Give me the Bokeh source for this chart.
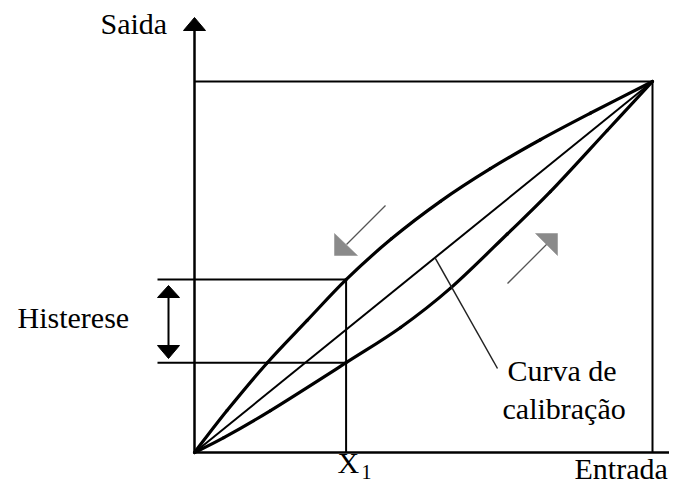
from bokeh.plotting import figure
from bokeh.embed import file_html
from bokeh.resources import INLINE
from bokeh.core.properties import value
from bokeh.models import Range1d

# ---- data (normalised input / output, 0..1) ----
# descending branch (upper curve)
desc_x = [0.0, 0.071, 0.159, 0.246, 0.331, 0.430, 0.537, 0.646, 0.755, 0.865, 1.0]
desc_y = [0.0, 0.113, 0.242, 0.356, 0.466, 0.576, 0.677, 0.765, 0.843, 0.915, 1.0]
# ascending branch (lower curve)
asc_x = [0.0, 0.064, 0.166, 0.331, 0.450, 0.559, 0.683, 0.777, 0.901, 1.0]
asc_y = [0.0, 0.040, 0.113, 0.242, 0.337, 0.443, 0.589, 0.703, 0.868, 1.0]
# calibration curve (straight line)
cal_x = [0.0, 1.0]
cal_y = [0.0, 1.0]
# hysteresis reading point
x1 = asc_x[3]
y_hi = desc_y[4]
y_lo = asc_y[3]

labels = {"y": "Saida", "x": "Entrada", "hyst": "Histerese",
          "cal1": "Curva de", "cal2": "calibração", "x1": "X", "x1sub": "1"}

# ---- layout (pixel mapping of the drawing) ----
OX, OY = 194.0, 452.0     # pixel of origin
SX, SY = 458.0, 371.0     # pixels per unit
W, H = 669, 485


def dx(px):
    return (px - OX) / SX


def dy(py):
    return (OY - py) / SY


def smooth_segments(xs, ys):
    """Catmull-Rom style bezier control points through the given points."""
    n = len(xs)
    P = list(zip(xs, ys))
    out = {k: [] for k in ("x0", "y0", "x1", "y1", "cx0", "cy0", "cx1", "cy1")}
    for i in range(n - 1):
        p0 = P[i - 1] if i > 0 else P[i]
        p1 = P[i]
        p2 = P[i + 1]
        p3 = P[i + 2] if i + 2 < n else P[i + 1]
        out["x0"].append(p1[0]); out["y0"].append(p1[1])
        out["x1"].append(p2[0]); out["y1"].append(p2[1])
        out["cx0"].append(p1[0] + (p2[0] - p0[0]) / 6.0)
        out["cy0"].append(p1[1] + (p2[1] - p0[1]) / 6.0)
        out["cx1"].append(p2[0] - (p3[0] - p1[0]) / 6.0)
        out["cy1"].append(p2[1] - (p3[1] - p1[1]) / 6.0)
    return out


p = figure(width=W, height=H, output_backend="svg", toolbar_location=None,
           x_range=Range1d(-OX / SX, (W - OX) / SX),
           y_range=Range1d((OY - H) / SY, OY / SY),
           x_axis_location=None, y_axis_location=None, min_border=0,
           outline_line_color=None, background_fill_color="white",
           border_fill_color="white")
p.grid.visible = False

K = "black"
# axes
p.line([0, 0], [0, dy(25)], line_color=K, line_width=2.5)
p.patch([-11 / SX, 0, 11 / SX], [dy(30), dy(17), dy(30)], fill_color=K, line_color=K)
p.line([0, dx(690)], [0, 0], line_color=K, line_width=2.5)

# box lines to the full-scale point
p.line([0, 1], [1, 1], line_color=K, line_width=2)
p.line([1, 1], [0, 1], line_color=K, line_width=2)

# curves
p.line(cal_x, cal_y, line_color=K, line_width=2)
p.bezier(**smooth_segments(desc_x, desc_y), line_color=K,
         line_width=3.2, line_cap="round")
p.bezier(**smooth_segments(asc_x, asc_y), line_color=K,
         line_width=3.2, line_cap="round")

# X1 vertical and hysteresis horizontals
p.line([x1, x1], [0, y_hi], line_color=K, line_width=2)
p.line([dx(157), x1], [y_hi, y_hi], line_color=K, line_width=2)
p.line([dx(157), x1], [y_lo, y_lo], line_color=K, line_width=2)

# double arrow
ax = dx(168)
hw = 11 / SX
p.line([ax, ax], [dy(296), dy(346)], line_color=K, line_width=2)
p.patch([ax - hw, ax, ax + hw], [dy(297), dy(285), dy(297)], fill_color=K, line_color=K)
p.patch([ax - hw, ax, ax + hw], [dy(345), dy(358), dy(345)], fill_color=K, line_color=K)

# direction arrows (gray heads)
G = "#555555"
p.line([dx(385), dx(346)], [dy(205), dy(244)], line_color=G, line_width=1.3)
p.patch([dx(334), dx(334), dx(357)], [dy(233), dy(255), dy(255)],
        fill_color="#8a8a8a", line_color="#8a8a8a", line_width=0.5)
p.line([dx(507), dx(547)], [dy(283), dy(243)], line_color=G, line_width=1.3)
p.patch([dx(535), dx(557), dx(557)], [dy(233), dy(233), dy(255)],
        fill_color="#8a8a8a", line_color="#8a8a8a", line_width=0.5)

# leader line to calibration curve
p.line([0.525, dx(497)], [0.525, dy(368)], line_color="#222222", line_width=1.5)

# texts
F = value("Liberation Serif, DejaVu Serif, serif")


def label(px, py, txt, size=30):
    # baseline correction for the renderer's text placement
    off = size / 3.0
    p.text([dx(px)], [dy(py - off)], text=[txt], text_font=F,
           text_font_size=value(f"{size}px"),
           text_color=K, text_baseline="alphabetic", text_align="left")


label(100, 33, labels["y"])
label(574, 478, labels["x"])
label(17, 327, labels["hyst"])
label(507, 380, labels["cal1"])
label(502, 418, labels["cal2"])
label(337, 472, labels["x1"])
label(361, 478, labels["x1sub"], 20)

open("out.html", "w").write(file_html(p, INLINE))
